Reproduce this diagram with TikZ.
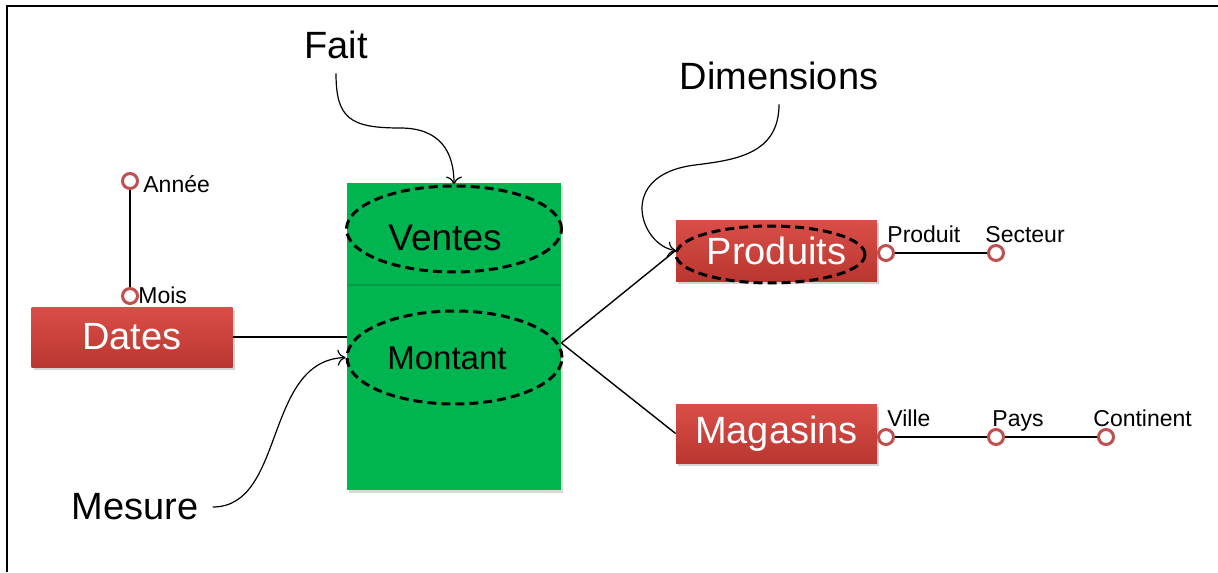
\documentclass[tikz,border=0pt]{standalone}
\usepackage{fontspec}
\setmainfont{Liberation Sans}
\usetikzlibrary{shapes.geometric,shadows,arrows.meta}

\definecolor{faitgreen}{HTML}{00B550}
\definecolor{faitline}{HTML}{079A45}
\definecolor{dimtop}{HTML}{DA4E48}
\definecolor{dimbot}{HTML}{BA3630}
\definecolor{attrred}{HTML}{C0504D}

\tikzset{
  dimbox/.style={rectangle, top color=dimtop, bottom color=dimbot, text=white,
    minimum width=100.5pt, minimum height=30pt, inner sep=0pt,
    font=\fontsize{19}{22}\selectfont,
    drop shadow={opacity=.35, shadow xshift=1pt, shadow yshift=-1.5pt}},
  dashell/.style={ellipse, draw=black, line width=1.5pt, dash pattern=on 4.5pt off 2.5pt, inner sep=0pt},
  attr/.style={circle, draw=attrred, line width=1.5pt, fill=white, minimum size=7.5pt, inner sep=0pt},
  attrlbl/.style={font=\fontsize{11.5}{13}\selectfont, inner sep=0pt, anchor=base west},
  callout/.style={font=\fontsize{19}{22}\selectfont, inner sep=7pt},
  link/.style={line width=0.7pt},
  pointer/.style={line width=0.6pt, -{To[length=4pt,width=8pt]}},
}

\begin{document}
\begin{tikzpicture}[x=0.5pt,y=-0.5pt]
\useasboundingbox (0,0) rectangle (1218,572);
\draw[line width=1pt] (7,572) -- (7,6) -- (1218,6);

% table de faits
\node[rectangle, fill=faitgreen, minimum width=107pt, minimum height=153.5pt, inner sep=0pt,
  drop shadow={opacity=.3, shadow xshift=1pt, shadow yshift=-1.5pt}] (fait) at (454,336.5) {};
\draw[faitline, line width=1pt] (347,285) -- (561,285);
\node[dashell, minimum width=107.5pt, minimum height=43pt] (ventes) at (454,229) {};
\node[font=\fontsize{18.5}{22}\selectfont] (ventestxt) at (445,238) {Ventes};
\node[dashell, minimum width=107.5pt, minimum height=46.5pt] (montant) at (454.5,357.5) {};
\node[font=\fontsize{16.5}{20}\selectfont] (montanttxt) at (447,358) {Montant};

% dimensions
\node[dimbox] (dates) at (132,337) {Dates};
\node[dimbox, minimum height=30.5pt] (produits) at (776.5,250.5) {Produits};
\node[dashell, minimum width=94.5pt, minimum height=28.5pt] (produitsell) at (770.5,254.5) {};
\node[dimbox, minimum height=29.5pt] (magasins) at (776.5,433.5) {Magasins};

% hierarchies
\node[attr] (mois) at (130,296) {};
\node[attr] (annee) at (130,181) {};
\node[attrlbl] (moislbl) at (138,303) {Mois};
\node[attrlbl] (anneelbl) at (143,192) {Année};
\draw[link] (annee) -- (mois);

\node[attr] (prod1) at (886,253) {};
\node[attr] (prod2) at (996,253) {};
\node[attrlbl] (prod1lbl) at (887,242) {Produit};
\node[attrlbl] (prod2lbl) at (985,242) {Secteur};
\draw[link] (prod1) -- (prod2);

\node[attr] (mag1) at (886,437) {};
\node[attr] (mag2) at (996,437) {};
\node[attr] (mag3) at (1106,437) {};
\node[attrlbl] (mag1lbl) at (887,426) {Ville};
\node[attrlbl] (mag2lbl) at (992,426) {Pays};
\node[attrlbl] (mag3lbl) at (1093,426) {Continent};
\draw[link] (mag1) -- (mag2) -- (mag3);

% liens
\coordinate (hub) at ([yshift=-3.25pt]fait.east);
\draw[link] (dates.east) -- (dates.east -| fait.west);
\draw[link] (hub) -- (produits.west);
\draw[link] (hub) -- (magasins.west);

% legendes
\node[callout] (faitlbl) at (336,45) {Fait};
\node[callout] (dimlbl) at (779,76) {Dimensions};
\node[callout] (mesurelbl) at (135,507) {Mesure};
\draw[pointer] (faitlbl.south) .. controls +(0,45) and +(-50,0) .. (400,128)
  .. controls +(40,0) and +(0,-33) .. (ventes.north);
\draw[pointer] (dimlbl.south) .. controls +(0,50) and +(40,-5) .. (695,165)
  .. controls +(-80,10) and +(-35,-5) .. (produits.west);
\draw[pointer] (mesurelbl.east) .. controls +(73,0) and +(-82,3) .. (montant.west);
\end{tikzpicture}
\end{document}
